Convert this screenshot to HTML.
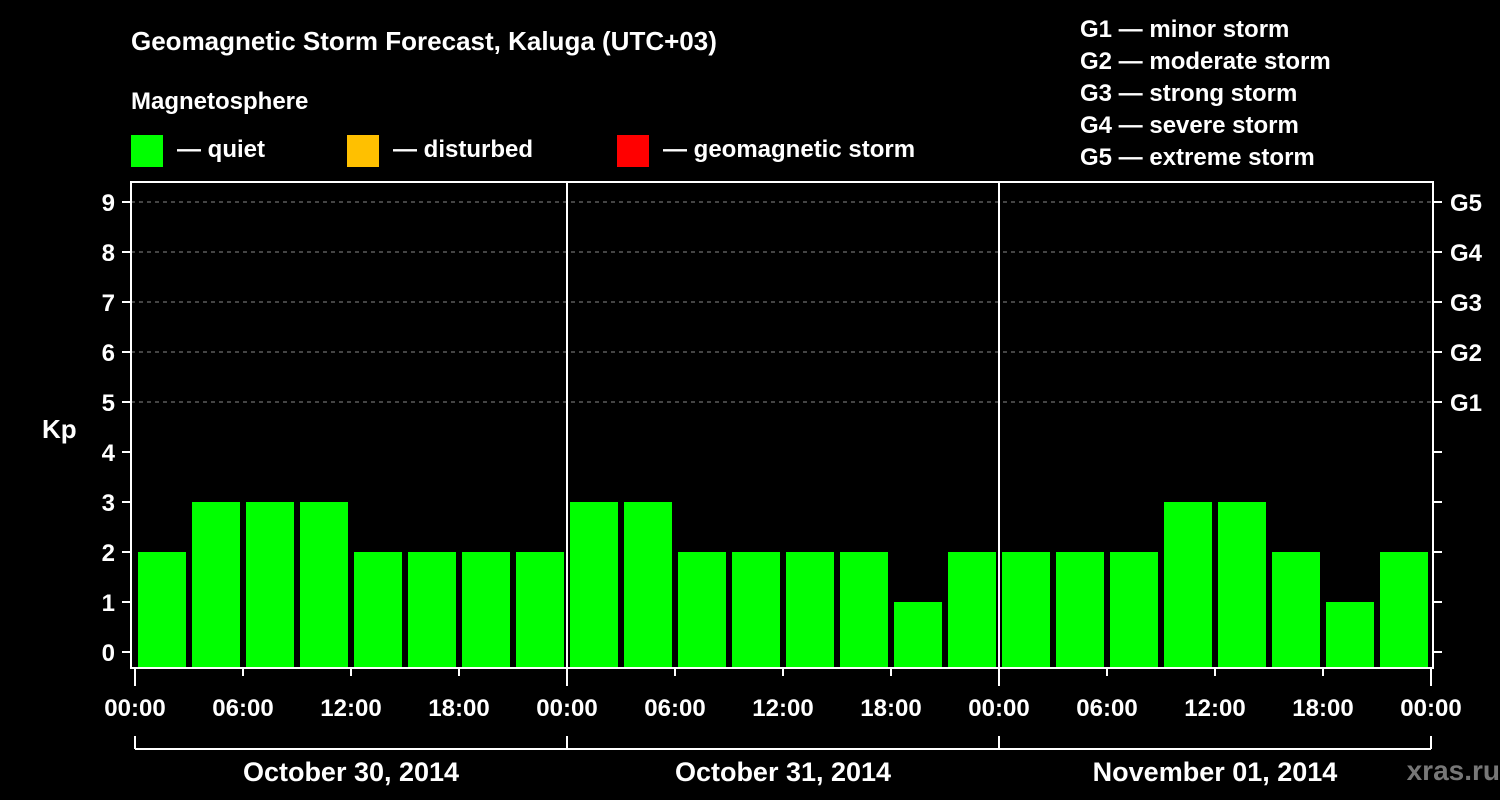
<!DOCTYPE html>
<html><head><meta charset="utf-8"><style>
body{margin:0;background:#000;width:1500px;height:800px;overflow:hidden}
svg{display:block;font-family:"Liberation Sans",sans-serif;font-weight:bold}
</style></head><body>
<svg id="c" width="1500" height="800">
<rect width="1500" height="800" fill="#000"/>
<text x="131" y="50" fill="#fff" font-size="26">Geomagnetic Storm Forecast, Kaluga (UTC+03)</text>
<text x="131" y="109" fill="#fff" font-size="24">Magnetosphere</text>
<rect x="131" y="135" width="32" height="32" fill="#00ff00"/>
<text x="177" y="157" fill="#fff" font-size="24">— quiet</text>
<rect x="347" y="135" width="32" height="32" fill="#ffc000"/>
<text x="393" y="157" fill="#fff" font-size="24">— disturbed</text>
<rect x="617" y="135" width="32" height="32" fill="#ff0000"/>
<text x="663" y="157" fill="#fff" font-size="24">— geomagnetic storm</text>
<g fill="#fff" font-size="24">
<text x="1080" y="37">G1 — minor storm</text>
<text x="1080" y="69">G2 — moderate storm</text>
<text x="1080" y="101">G3 — strong storm</text>
<text x="1080" y="133">G4 — severe storm</text>
<text x="1080" y="165">G5 — extreme storm</text>
</g>
<text x="42" y="438" fill="#fff" font-size="26">Kp</text>
<text x="1500" y="780" fill="#777" font-size="28" text-anchor="end">xras.ru</text>
<g id="grid"></g><g id="bars"></g><g id="axes"></g>
</svg>
<script>
const values=[2,3,3,3,2,2,2,2,3,3,2,2,2,2,1,2,2,2,2,3,3,2,1,2];
const yTicks=[0,1,2,3,4,5,6,7,8,9];
const gLabels=["G1","G2","G3","G4","G5"];
const gLevels=[5,6,7,8,9];
const timeLabels=["00:00","06:00","12:00","18:00"];
const dayLabels=["October 30, 2014","October 31, 2014","November 01, 2014"];
const NS="http://www.w3.org/2000/svg";
const L=131,R=1433,T=182,B=668,X0=135,X1=1431;
const y=v=>652-v*50;
const x=h=>X0+h*(X1-X0)/72;
function mk(tag,attrs,parent,text){const e=document.createElementNS(NS,tag);for(const k in attrs)e.setAttribute(k,attrs[k]);if(text!==undefined)e.textContent=text;document.getElementById(parent).appendChild(e);return e;}
gLevels.forEach((g,i)=>{
 const l=mk('line',{x1:L,x2:R,y1:y(g),y2:y(g),stroke:'#888','stroke-dasharray':'4,4','stroke-width':1},'grid');
 
 
 const t=mk('text',{x:1450,y:y(g)+9,fill:'#fff','font-size':24},'axes',gLabels[i]);
 
 
});
values.forEach((v,i)=>{
 const b=mk('rect',{x:x(i*3)+3,y:y(v),width:x(3)-X0-6,height:B-y(v),fill:v>=5?'#ff0000':(v>=4?'#ffc000':'#00ff00')},'bars');
 
 
});
mk('rect',{x:L,y:T,width:R-L,height:B-T,fill:'none',stroke:'#fff','stroke-width':2},'axes');
[1,2].forEach(d=>{const l=mk('line',{x1:x(d*24),x2:x(d*24),y1:T,y2:B,stroke:'#fff','stroke-width':2},'axes');
 
 });
yTicks.forEach(v=>{
 mk('line',{x1:122,x2:L,y1:y(v),y2:y(v),stroke:'#fff','stroke-width':2},'axes');
 mk('line',{x1:R,x2:1442,y1:y(v),y2:y(v),stroke:'#fff','stroke-width':2},'axes');
 const t=mk('text',{x:115,y:y(v)+9,fill:'#fff','font-size':24,'text-anchor':'end'},'axes',v);
 
 
});
for(let h=0;h<=72;h+=6){
 const lab=timeLabels[(h%24)/6];
 mk('line',{x1:x(h),x2:x(h),y1:B,y2:h%24===0?686:676,stroke:'#fff','stroke-width':2},'axes');
 const t=mk('text',{x:x(h),y:716,fill:'#fff','font-size':24,'text-anchor':'middle'},'axes',lab);
 
 
}
mk('line',{x1:x(0),x2:x(72),y1:749,y2:749,stroke:'#fff','stroke-width':2},'axes');
[0,24,48,72].forEach(h=>mk('line',{x1:x(h),x2:x(h),y1:736,y2:749,stroke:'#fff','stroke-width':2},'axes'));
dayLabels.forEach((d,i)=>{
 const t=mk('text',{x:x(i*24+12),y:781,fill:'#fff','font-size':27,'text-anchor':'middle'},'axes',d);
 
 
});
</script>
</body></html>
